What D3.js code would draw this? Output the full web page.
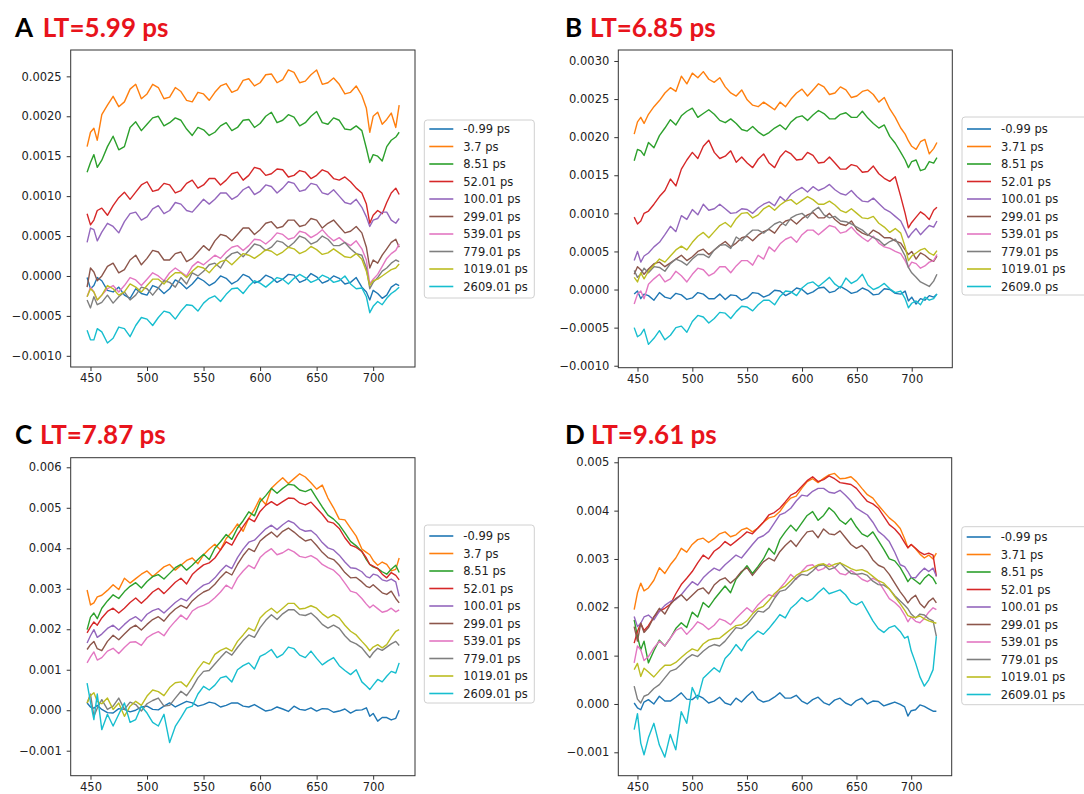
<!DOCTYPE html>
<html>
<head>
<meta charset="utf-8">
<script src="https://cdn.jsdelivr.net/npm/d3@7"></script>
<style>
  body { margin: 0; background: #fff; }
  svg { display: block; }
</style>
</head>
<body>
<div id="chart"></div>
<script>
// wavelength grid (nm), shared by every series
const wavelengths = [447, 450, 453, 456, 460, 465, 470, 475, 480, 485, 490, 495, 500, 505, 510, 515,
  520, 525, 530, 535, 540, 545, 550, 555, 560, 565, 570, 575, 580, 585, 590, 595, 600, 605, 610, 615,
  620, 625, 630, 635, 640, 645, 650, 655, 660, 665, 670, 675, 680, 685, 690, 694, 697, 700, 704, 708,
  712, 716, 720, 723];

const labelsA = ["-0.99 ps", "3.7 ps", "8.51 ps", "52.01 ps", "100.01 ps", "299.01 ps", "539.01 ps", "779.01 ps", "1019.01 ps", "2609.01 ps"];
const labelsB = ["-0.99 ps", "3.71 ps", "8.51 ps", "52.01 ps", "100.01 ps", "299.01 ps", "539.01 ps", "779.01 ps", "1019.01 ps", "2609.0 ps"];
const labelsC = ["-0.99 ps", "3.7 ps", "8.51 ps", "52.01 ps", "100.01 ps", "299.01 ps", "539.01 ps", "779.01 ps", "1019.01 ps", "2609.01 ps"];
const labelsD = ["-0.99 ps", "3.71 ps", "8.51 ps", "52.01 ps", "100.01 ps", "299.01 ps", "539.01 ps", "779.01 ps", "1019.01 ps", "2609.01 ps"];

// series values in units of 1e-3 (dA), one row per delay
const seriesA = [
  [-0.02,-0.16,-0.12,-0.02,-0.06,-0.18,-0.20,-0.14,-0.24,-0.28,-0.16,-0.22,-0.24,-0.12,-0.15,-0.22,-0.16,-0.05,-0.09,-0.16,-0.10,-0.02,-0.06,-0.12,-0.08,0.00,-0.03,-0.10,-0.06,0.02,-0.01,-0.09,-0.06,0.01,-0.02,-0.08,-0.04,0.02,0.01,-0.08,-0.05,0.03,-0.01,-0.09,-0.06,0.00,-0.03,-0.10,-0.08,-0.02,-0.14,-0.20,-0.30,-0.18,-0.22,-0.28,-0.24,-0.14,-0.10,-0.12],
  [1.62,1.80,1.85,1.70,2.02,2.14,2.25,2.12,2.18,2.34,2.40,2.22,2.28,2.40,2.36,2.22,2.24,2.36,2.31,2.20,2.18,2.30,2.28,2.20,2.30,2.38,2.41,2.30,2.33,2.45,2.47,2.38,2.42,2.52,2.53,2.42,2.46,2.58,2.55,2.42,2.44,2.52,2.58,2.40,2.42,2.48,2.40,2.28,2.30,2.38,2.26,2.10,1.80,2.00,2.05,1.90,1.96,2.04,1.86,2.14],
  [1.30,1.42,1.52,1.36,1.45,1.62,1.75,1.58,1.62,1.86,1.93,1.82,1.90,1.98,2.00,1.88,1.92,1.98,1.95,1.84,1.76,1.86,1.83,1.76,1.80,1.88,1.92,1.82,1.86,1.95,1.96,1.86,1.91,2.00,2.05,1.92,1.95,2.02,1.99,1.88,1.92,2.00,2.06,1.92,1.90,1.98,1.95,1.84,1.83,1.88,1.82,1.60,1.42,1.52,1.50,1.44,1.62,1.70,1.74,1.80],
  [0.78,0.64,0.70,0.82,0.85,0.76,0.88,0.98,1.05,0.96,1.05,1.14,1.18,1.06,1.08,1.16,1.14,1.04,1.07,1.16,1.20,1.10,1.14,1.22,1.22,1.14,1.20,1.28,1.30,1.20,1.26,1.36,1.34,1.26,1.28,1.34,1.33,1.24,1.26,1.32,1.30,1.22,1.26,1.33,1.30,1.22,1.20,1.24,1.18,1.10,1.04,0.90,0.66,0.76,0.82,0.78,0.92,1.04,1.10,1.02],
  [0.42,0.60,0.58,0.44,0.55,0.66,0.62,0.54,0.68,0.78,0.80,0.70,0.74,0.84,0.88,0.78,0.82,0.92,0.90,0.82,0.80,0.88,0.96,0.90,0.96,1.04,1.04,0.96,1.00,1.08,1.12,1.02,1.06,1.14,1.12,1.04,1.10,1.18,1.16,1.06,1.08,1.16,1.14,1.04,1.02,1.08,1.00,0.92,0.90,0.96,0.86,0.74,0.62,0.70,0.72,0.80,0.80,0.70,0.66,0.72],
  [-0.14,0.10,0.05,-0.06,0.00,0.12,0.16,0.04,0.08,0.20,0.26,0.14,0.22,0.32,0.30,0.20,0.20,0.28,0.30,0.18,0.22,0.30,0.38,0.32,0.44,0.52,0.50,0.44,0.52,0.60,0.60,0.52,0.58,0.66,0.68,0.60,0.62,0.70,0.70,0.62,0.64,0.72,0.70,0.60,0.66,0.70,0.62,0.54,0.56,0.62,0.54,0.36,0.10,0.20,0.16,0.26,0.34,0.42,0.46,0.36],
  [-0.26,-0.14,-0.20,-0.30,-0.24,-0.16,-0.12,-0.20,-0.12,-0.02,-0.05,-0.12,-0.04,0.04,0.00,-0.06,0.04,0.10,0.05,0.00,0.12,0.18,0.14,0.20,0.26,0.22,0.30,0.36,0.38,0.32,0.38,0.46,0.45,0.40,0.46,0.54,0.52,0.46,0.48,0.56,0.54,0.48,0.52,0.58,0.50,0.44,0.48,0.42,0.38,0.44,0.34,0.20,-0.10,-0.04,0.02,0.12,0.22,0.28,0.32,0.40],
  [-0.30,-0.40,-0.26,-0.36,-0.33,-0.24,-0.34,-0.26,-0.20,-0.30,-0.24,-0.14,-0.16,-0.24,-0.15,-0.06,-0.08,-0.14,-0.02,-0.10,0.04,0.00,0.06,0.14,0.16,0.10,0.22,0.28,0.30,0.24,0.32,0.40,0.38,0.32,0.36,0.44,0.42,0.36,0.42,0.50,0.47,0.40,0.43,0.50,0.46,0.38,0.38,0.42,0.34,0.28,0.26,0.10,-0.16,-0.08,-0.02,0.06,0.10,0.16,0.20,0.18],
  [-0.26,-0.16,-0.20,-0.30,-0.24,-0.12,-0.16,-0.24,-0.20,-0.10,-0.14,-0.20,-0.12,-0.04,-0.04,-0.10,-0.02,0.04,0.04,-0.02,0.06,0.12,0.10,0.04,0.12,0.18,0.20,0.14,0.21,0.28,0.26,0.22,0.27,0.33,0.31,0.26,0.30,0.36,0.34,0.28,0.31,0.37,0.33,0.27,0.29,0.34,0.29,0.24,0.23,0.28,0.21,0.06,-0.12,-0.06,-0.04,0.00,0.04,0.08,0.10,0.15],
  [-0.68,-0.80,-0.80,-0.66,-0.70,-0.84,-0.78,-0.64,-0.66,-0.76,-0.62,-0.52,-0.54,-0.62,-0.52,-0.44,-0.46,-0.54,-0.44,-0.36,-0.37,-0.44,-0.34,-0.28,-0.25,-0.32,-0.23,-0.16,-0.15,-0.22,-0.13,-0.06,-0.09,-0.14,-0.08,-0.02,-0.04,-0.10,-0.03,0.02,-0.02,-0.08,-0.05,0.01,-0.02,-0.08,-0.06,0.00,-0.10,-0.16,-0.15,-0.26,-0.46,-0.38,-0.32,-0.36,-0.28,-0.22,-0.18,-0.14]
];

const seriesB = [
  [-0.06,-0.02,-0.12,-0.06,-0.08,-0.14,-0.04,-0.10,-0.12,-0.05,-0.07,-0.13,-0.11,-0.04,-0.06,-0.12,-0.12,-0.06,-0.13,-0.07,-0.08,-0.14,-0.11,-0.04,-0.05,-0.10,-0.07,-0.01,-0.02,-0.08,-0.04,0.02,0.00,-0.06,-0.03,0.02,0.03,-0.04,-0.02,0.04,0.00,-0.05,-0.03,0.02,-0.01,-0.07,-0.06,0.01,0.00,-0.05,-0.06,-0.02,-0.15,-0.10,-0.19,-0.12,-0.14,-0.08,-0.10,-0.06],
  [2.04,2.20,2.26,2.18,2.30,2.40,2.48,2.58,2.65,2.60,2.80,2.70,2.84,2.78,2.86,2.76,2.72,2.78,2.66,2.58,2.54,2.62,2.49,2.42,2.40,2.46,2.41,2.36,2.46,2.40,2.50,2.58,2.63,2.54,2.62,2.70,2.66,2.56,2.58,2.66,2.62,2.52,2.54,2.60,2.62,2.56,2.46,2.52,2.37,2.26,2.12,2.04,1.95,1.88,1.84,1.94,1.97,1.78,1.85,1.93],
  [1.69,1.84,1.82,1.76,1.93,1.86,2.02,2.12,2.23,2.16,2.28,2.34,2.38,2.26,2.31,2.36,2.30,2.22,2.19,2.24,2.18,2.10,2.08,2.14,2.07,2.02,2.06,2.12,2.16,2.10,2.20,2.26,2.28,2.22,2.29,2.35,2.31,2.24,2.24,2.30,2.32,2.26,2.26,2.34,2.25,2.18,2.12,2.16,2.01,1.92,1.80,1.70,1.60,1.68,1.70,1.56,1.58,1.68,1.66,1.73],
  [0.95,0.86,0.90,1.00,1.03,1.12,1.22,1.30,1.45,1.36,1.58,1.70,1.80,1.72,1.88,1.96,1.80,1.72,1.75,1.82,1.67,1.74,1.66,1.60,1.71,1.78,1.66,1.60,1.74,1.82,1.78,1.70,1.71,1.80,1.76,1.66,1.67,1.74,1.66,1.58,1.58,1.64,1.62,1.54,1.55,1.62,1.52,1.46,1.42,1.48,1.22,1.00,0.81,0.88,0.95,1.02,0.98,0.92,1.04,1.08],
  [0.38,0.50,0.36,0.44,0.48,0.56,0.62,0.72,0.83,0.76,0.97,0.92,1.05,0.98,1.12,1.04,1.06,1.12,1.06,1.00,1.01,1.06,1.05,1.00,1.07,1.12,1.15,1.10,1.22,1.16,1.25,1.30,1.34,1.28,1.35,1.30,1.33,1.38,1.31,1.26,1.24,1.30,1.22,1.16,1.15,1.20,1.13,1.06,1.02,0.96,0.90,0.78,0.68,0.74,0.80,0.72,0.78,0.84,0.82,0.90],
  [0.20,0.30,0.26,0.20,0.27,0.34,0.36,0.30,0.35,0.40,0.45,0.38,0.43,0.50,0.53,0.46,0.52,0.58,0.63,0.56,0.61,0.68,0.70,0.64,0.71,0.76,0.79,0.74,0.84,0.90,0.92,0.86,0.93,0.98,1.01,0.94,0.94,1.00,0.92,0.86,0.84,0.90,0.79,0.74,0.71,0.78,0.74,0.68,0.68,0.64,0.61,0.52,0.46,0.50,0.40,0.48,0.45,0.40,0.37,0.44],
  [-0.19,-0.06,-0.02,-0.12,0.07,0.14,0.20,0.10,0.14,0.24,0.18,0.10,0.20,0.28,0.26,0.18,0.22,0.30,0.30,0.22,0.31,0.38,0.38,0.32,0.45,0.40,0.56,0.50,0.60,0.66,0.69,0.62,0.72,0.78,0.78,0.72,0.78,0.84,0.82,0.74,0.76,0.82,0.74,0.68,0.63,0.70,0.61,0.56,0.54,0.50,0.47,0.38,0.29,0.36,0.34,0.28,0.31,0.36,0.38,0.46],
  [0.25,0.16,0.20,0.28,0.22,0.30,0.29,0.24,0.34,0.40,0.37,0.32,0.40,0.46,0.46,0.42,0.52,0.58,0.59,0.54,0.69,0.64,0.72,0.78,0.78,0.74,0.80,0.86,0.89,0.84,0.94,0.98,1.00,0.94,1.03,1.08,0.98,0.94,0.96,0.90,0.89,0.86,0.82,0.78,0.72,0.68,0.65,0.58,0.63,0.66,0.55,0.44,0.29,0.22,0.16,0.10,0.07,0.04,0.11,0.20],
  [0.16,0.10,0.22,0.14,0.24,0.32,0.40,0.36,0.44,0.52,0.57,0.52,0.62,0.70,0.75,0.68,0.76,0.84,0.88,0.82,0.93,1.00,1.01,0.94,0.98,1.06,1.10,1.04,1.11,1.16,1.18,1.12,1.17,1.22,1.18,1.12,1.12,1.16,1.11,1.04,1.01,1.06,1.00,0.94,0.93,0.96,0.87,0.82,0.75,0.80,0.74,0.56,0.38,0.44,0.48,0.52,0.54,0.48,0.45,0.51],
  [-0.50,-0.62,-0.59,-0.52,-0.72,-0.64,-0.54,-0.66,-0.60,-0.50,-0.48,-0.56,-0.42,-0.34,-0.36,-0.44,-0.38,-0.30,-0.31,-0.38,-0.29,-0.22,-0.23,-0.28,-0.20,-0.14,-0.14,-0.20,-0.09,-0.02,-0.03,-0.08,0.02,0.08,0.10,0.04,0.10,0.16,0.07,0.02,0.15,0.08,0.12,0.20,0.06,0.00,0.03,0.08,0.01,-0.04,-0.02,-0.12,-0.24,-0.18,-0.15,-0.20,-0.10,-0.14,-0.12,-0.06]
];

const seriesC = [
  [0.18,0.08,0.05,0.12,0.02,-0.06,-0.07,0.04,0.02,-0.04,0.00,0.08,0.10,0.02,0.01,0.10,0.18,0.08,0.15,0.22,0.18,0.10,0.14,0.20,0.17,0.08,0.12,0.18,0.18,0.10,0.08,0.14,0.06,-0.02,0.01,0.08,0.03,-0.03,0.10,0.02,0.00,0.06,-0.02,0.04,0.03,-0.05,-0.02,0.03,-0.07,0.00,0.01,0.06,-0.15,-0.08,-0.27,-0.18,-0.18,-0.24,-0.20,0.00],
  [2.97,2.60,2.65,2.80,2.84,2.96,3.10,2.98,3.26,3.14,3.25,3.36,3.44,3.30,3.42,3.54,3.60,3.46,3.58,3.70,3.76,3.62,3.84,3.98,4.10,3.96,4.24,4.40,4.60,4.42,4.74,4.96,5.24,5.08,5.48,5.62,5.74,5.60,5.72,5.84,5.76,5.62,5.46,5.56,5.24,5.00,4.72,4.70,4.50,4.30,3.98,3.90,3.84,3.70,3.58,3.66,3.60,3.44,3.48,3.76],
  [1.99,2.30,2.40,2.26,2.52,2.70,2.85,2.76,2.93,3.06,3.15,3.02,3.18,3.30,3.35,3.24,3.38,3.52,3.60,3.46,3.58,3.72,3.85,3.72,4.00,4.16,4.34,4.22,4.50,4.68,4.90,4.80,5.15,5.30,5.48,5.36,5.48,5.58,5.56,5.44,5.40,5.46,5.24,5.02,4.82,4.72,4.58,4.38,4.17,4.06,3.92,3.72,3.60,3.54,3.50,3.42,3.36,3.48,3.58,3.40],
  [1.91,2.06,2.18,2.10,2.28,2.44,2.52,2.40,2.52,2.66,2.77,2.64,2.77,2.92,3.01,2.88,3.02,3.16,3.26,3.12,3.35,3.48,3.59,3.64,3.76,3.96,4.16,4.08,4.33,4.54,4.74,4.66,4.91,5.06,5.15,5.06,5.15,5.24,5.23,5.12,5.07,5.14,4.99,4.84,4.66,4.62,4.49,4.26,4.08,4.02,3.92,3.76,3.60,3.56,3.50,3.36,3.27,3.40,3.33,3.22],
  [1.66,1.84,1.99,1.80,1.88,2.02,2.10,1.98,2.12,2.24,2.31,2.20,2.37,2.46,2.51,2.40,2.53,2.66,2.76,2.70,2.86,2.98,3.09,3.14,3.27,3.44,3.58,3.50,3.77,3.98,4.15,4.20,4.34,4.48,4.57,4.46,4.58,4.68,4.62,4.48,4.42,4.44,4.32,4.14,4.01,3.96,3.83,3.66,3.52,3.50,3.42,3.30,3.27,3.36,3.33,3.22,3.19,3.24,3.17,2.81],
  [1.50,1.62,1.70,1.52,1.47,1.70,1.85,1.74,1.88,2.02,2.10,1.98,2.12,2.24,2.31,2.20,2.37,2.50,2.59,2.52,2.70,2.82,2.92,2.98,3.11,3.28,3.42,3.34,3.60,3.82,3.99,3.92,4.18,4.30,4.40,4.28,4.42,4.50,4.40,4.28,4.18,4.22,4.07,3.90,3.77,3.72,3.58,3.40,3.27,3.28,3.17,3.06,3.03,3.10,3.00,2.90,2.86,2.94,2.76,2.65],
  [1.17,1.32,1.44,1.24,1.30,1.46,1.53,1.40,1.55,1.68,1.69,1.60,1.79,1.88,1.94,1.84,2.04,2.20,2.35,2.24,2.45,2.54,2.59,2.66,2.78,2.92,3.09,3.00,3.27,3.44,3.58,3.50,3.77,3.90,3.99,3.84,3.89,3.98,3.91,3.80,3.77,3.82,3.74,3.60,3.52,3.46,3.33,3.14,2.94,2.90,2.76,2.62,2.53,2.60,2.51,2.42,2.45,2.52,2.43,2.48],
  [0.18,0.40,-0.15,0.05,0.26,0.02,0.10,0.30,0.02,0.20,0.14,-0.02,0.16,0.24,0.30,0.10,0.12,0.30,0.47,0.36,0.56,0.80,0.96,0.98,1.14,1.30,1.45,1.36,1.55,1.72,1.86,1.80,2.04,2.22,2.36,2.24,2.38,2.48,2.48,2.36,2.34,2.40,2.28,2.12,2.03,2.10,2.02,1.84,1.70,1.64,1.54,1.40,1.30,1.42,1.53,1.48,1.56,1.64,1.70,1.60],
  [0.18,0.36,0.43,0.22,0.16,0.30,0.02,0.18,-0.15,0.10,0.22,0.12,0.35,0.50,0.46,0.36,0.56,0.68,0.70,0.58,0.80,1.02,1.20,1.14,1.38,1.48,1.54,1.46,1.70,1.86,2.03,1.96,2.28,2.42,2.52,2.40,2.52,2.64,2.64,2.50,2.52,2.58,2.52,2.38,2.28,2.36,2.28,2.10,1.95,1.86,1.70,1.58,1.47,1.56,1.62,1.54,1.62,1.80,1.95,1.99],
  [0.67,0.20,-0.23,0.40,-0.48,-0.10,-0.39,-0.10,0.18,-0.30,-0.23,0.10,-0.07,-0.30,-0.39,-0.10,-0.80,-0.40,-0.18,0.05,0.10,0.40,0.59,0.50,0.62,0.80,0.84,0.70,1.00,1.10,1.17,1.02,1.33,1.40,1.50,1.30,1.38,1.56,1.52,1.36,1.30,1.46,1.28,1.12,1.22,1.30,1.10,0.98,0.88,1.00,0.70,0.60,0.51,0.62,0.76,0.70,0.84,0.96,0.92,1.17]
];

const seriesD = [
  [0.02,-0.08,-0.12,0.04,0.09,0.00,0.16,0.06,0.06,0.14,0.23,0.10,0.09,0.18,0.12,0.02,0.06,0.14,0.02,-0.02,0.12,0.04,0.16,0.26,0.10,0.04,0.07,0.14,0.23,0.12,0.12,0.18,0.06,0.00,0.09,0.14,0.03,-0.02,0.08,0.12,0.02,-0.03,0.07,0.12,0.00,0.06,0.05,-0.04,0.00,0.04,-0.01,-0.06,-0.25,-0.14,-0.12,-0.02,-0.05,-0.10,-0.15,-0.15],
  [1.95,2.30,2.50,2.34,2.40,2.56,2.82,2.70,2.88,3.02,3.22,3.14,3.30,3.40,3.43,3.34,3.42,3.52,3.56,3.46,3.50,3.60,3.64,3.56,3.64,3.76,3.85,3.88,3.98,4.14,4.26,4.30,4.46,4.60,4.66,4.58,4.67,4.74,4.77,4.66,4.67,4.70,4.60,4.46,4.33,4.26,4.11,3.98,3.85,3.76,3.63,3.42,3.23,3.30,3.21,3.10,3.02,3.08,3.00,3.12],
  [1.74,1.40,1.12,1.30,0.85,1.10,1.32,1.20,1.36,1.56,1.68,1.58,1.90,1.80,2.10,2.00,2.16,2.30,2.44,2.30,2.58,2.72,2.86,2.70,2.84,3.00,3.22,3.10,3.40,3.56,3.70,3.58,3.74,3.90,3.98,3.80,3.90,4.06,3.96,3.80,3.72,3.84,3.66,3.52,3.46,3.56,3.38,3.20,3.00,2.96,2.82,2.66,2.53,2.62,2.55,2.48,2.60,2.68,2.60,2.48],
  [1.26,1.50,1.67,1.52,1.62,1.80,1.92,1.98,2.06,2.28,2.47,2.60,2.74,2.92,3.08,3.00,3.16,3.24,3.36,3.28,3.37,3.46,3.56,3.52,3.64,3.76,3.91,3.96,4.05,4.18,4.32,4.38,4.50,4.62,4.70,4.60,4.64,4.72,4.66,4.58,4.56,4.54,4.46,4.32,4.19,4.14,4.05,3.88,3.71,3.62,3.49,3.34,3.23,3.30,3.22,3.14,3.09,3.12,3.08,2.64],
  [1.81,1.60,1.67,1.80,1.84,1.74,1.92,2.04,2.12,2.16,2.26,2.40,2.53,2.46,2.61,2.72,2.81,2.76,2.88,2.98,3.08,3.02,3.16,3.30,3.43,3.48,3.57,3.74,3.91,3.96,4.05,4.20,4.32,4.30,4.40,4.46,4.46,4.38,4.36,4.42,4.32,4.20,4.05,3.98,3.91,3.76,3.57,3.48,3.36,3.14,2.88,2.84,2.74,2.62,2.61,2.72,2.81,2.74,2.81,2.64],
  [1.60,1.30,1.67,1.48,1.58,1.80,1.98,1.86,2.06,2.18,2.26,2.14,2.25,2.36,2.40,2.28,2.46,2.56,2.61,2.50,2.60,2.74,2.82,2.66,2.80,2.94,3.02,2.96,3.15,3.28,3.38,3.26,3.42,3.56,3.58,3.44,3.62,3.52,3.50,3.58,3.44,3.30,3.22,3.28,3.16,2.98,2.87,2.82,2.68,2.50,2.32,2.20,2.09,2.18,2.25,2.08,1.99,2.12,2.19,2.09],
  [0.85,1.20,1.12,0.90,0.98,1.16,1.30,1.20,1.36,1.52,1.58,1.44,1.56,1.70,1.64,1.54,1.63,1.76,1.72,1.64,1.77,1.88,1.99,1.90,2.05,2.16,2.26,2.22,2.39,2.52,2.68,2.58,2.74,2.86,2.88,2.76,2.80,2.90,2.82,2.70,2.67,2.76,2.68,2.58,2.53,2.60,2.54,2.36,2.18,2.10,1.99,1.84,1.70,1.80,1.71,1.68,1.77,1.90,1.99,1.95],
  [0.37,0.10,0.02,0.16,0.20,0.32,0.40,0.54,0.68,0.72,0.82,0.94,1.02,0.98,1.09,1.18,1.23,1.20,1.30,1.44,1.58,1.56,1.64,1.78,1.92,1.90,1.99,2.18,2.33,2.36,2.47,2.60,2.68,2.66,2.75,2.86,2.88,2.78,2.82,2.92,2.80,2.70,2.68,2.70,2.66,2.54,2.47,2.46,2.38,2.24,2.13,2.04,1.97,1.86,1.78,1.86,1.84,1.76,1.72,1.40],
  [0.71,0.84,0.57,0.74,0.66,0.56,0.69,0.80,0.80,0.86,0.96,1.06,1.14,1.10,1.24,1.32,1.35,1.36,1.45,1.54,1.62,1.64,1.72,1.86,1.97,2.02,2.14,2.28,2.38,2.44,2.55,2.66,2.73,2.76,2.82,2.88,2.90,2.84,2.89,2.92,2.86,2.80,2.76,2.78,2.73,2.64,2.55,2.50,2.38,2.22,2.07,1.94,1.83,1.80,1.79,1.82,1.76,1.72,1.69,1.67],
  [-0.53,-0.20,-0.81,-1.05,-0.70,-0.40,-0.85,-1.10,-0.63,-0.95,-0.16,-0.40,0.34,0.10,0.53,0.64,0.75,0.66,0.94,1.06,1.23,1.10,1.29,1.40,1.51,1.44,1.56,1.70,1.85,1.78,1.98,2.08,2.20,2.12,2.18,2.30,2.40,2.28,2.32,2.36,2.26,2.10,2.05,2.12,1.92,1.72,1.56,1.48,1.58,1.62,1.50,1.36,1.40,1.10,0.85,0.56,0.37,0.50,0.71,1.40]
];

// tick labels
const xTicks = [450, 500, 550, 600, 650, 700];
const yTicksA = [-0.001, -0.0005, 0, 0.0005, 0.001, 0.0015, 0.002, 0.0025];
const yTicksB = [-0.001, -0.0005, 0, 0.0005, 0.001, 0.0015, 0.002, 0.0025, 0.003];
const yTicksC = [-0.001, 0, 0.001, 0.002, 0.003, 0.004, 0.005, 0.006];
const yTicksD = [-0.001, 0, 0.001, 0.002, 0.003, 0.004, 0.005];

const colors = ["#1f77b4", "#ff7f0e", "#2ca02c", "#d62728", "#9467bd",
                "#8c564b", "#e377c2", "#7f7f7f", "#bcbd22", "#17becf"];

const width = 1084, height = 794;
const svg = d3.select("#chart").append("svg")
    .attr("width", width)
    .attr("height", height);

const panels = [
  { letter: "A", lt: "LT=5.99 ps", series: seriesA, labels: labelsA, ticks: yTicksA, fmt: ".4f",
    box: [70.7, 50, 415, 367], yDom: [-0.00114, 0.00283], titleY: 36.7, letterX: 15, ltX: 42.7,
    legend: { x: 424.3, y: 120, w: 110, first: 129 } },
  { letter: "B", lt: "LT=6.85 ps", series: seriesB, labels: labelsB, ticks: yTicksB, fmt: ".4f",
    box: [618.3, 50, 952.3, 367.7], yDom: [-0.001026, 0.003144], titleY: 36.7, letterX: 565, ltX: 590,
    legend: { x: 962, y: 117, w: 130, first: 129 } },
  { letter: "C", lt: "LT=7.87 ps", series: seriesC, labels: labelsC, ticks: yTicksC, fmt: ".3f",
    box: [70.7, 457.7, 415, 775.7], yDom: [-0.001617, 0.006237], titleY: 443.5, letterX: 15, ltX: 40,
    legend: { x: 424.3, y: 525, w: 110, first: 536 } },
  { letter: "D", lt: "LT=9.61 ps", series: seriesD, labels: labelsD, ticks: yTicksD, fmt: ".3f",
    box: [618.3, 457.7, 951.7, 775.7], yDom: [-0.001484, 0.005095], titleY: 443.5, letterX: 565, ltX: 591,
    legend: { x: 961.7, y: 526.7, w: 130, first: 537 } }
];

panels.forEach(drawPanel);

function drawPanel(p) {
    const [x0, y0, x1, y1] = p.box;

    const x = d3.scaleLinear().domain([432.5, 737]).range([x0, x1]);
    const y = d3.scaleLinear().domain(p.yDom).range([y1, y0]);

    const g = svg.append("g");

    // title: black letter + red lifetime
    g.append("text")
        .attr("x", p.letterX).attr("y", p.titleY)
        .style("font-family", "Lato, 'Open Sans', sans-serif")
        .style("font-weight", "bold")
        .style("font-size", "26px")
        .style("fill", "#000")
        .text(p.letter);
    g.append("text")
        .attr("x", p.ltX).attr("y", p.titleY)
        .style("font-family", "Lato, 'Open Sans', sans-serif")
        .style("font-weight", "bold")
        .style("font-size", "26px")
        .style("fill", "#e8141c")
        .text(p.lt);

    // spectra
    const line = d3.line()
        .x((d, i) => x(wavelengths[i]))
        .y(d => y(d * 1e-3));

    g.selectAll(".spec")
        .data(p.series)
        .enter().append("path")
        .attr("class", "spec")
        .attr("d", line)
        .attr("fill", "none")
        .attr("stroke", (d, i) => colors[i])
        .attr("stroke-width", 1.4)
        .attr("stroke-linejoin", "round");

    // axes
    const yAxis = g.append("g")
        .attr("transform", `translate(${x0},0)`)
        .call(d3.axisLeft(y).tickValues(p.ticks).tickSize(4).tickPadding(5)
            .tickFormat(d3.format(p.fmt)));
    const xAxis = g.append("g")
        .attr("transform", `translate(0,${y1})`)
        .call(d3.axisBottom(x).tickValues(xTicks).tickSize(4).tickPadding(3)
            .tickFormat(d3.format("d")));

    [yAxis, xAxis].forEach(a => {
        a.select(".domain").remove();
        a.selectAll("line").attr("stroke", "#333");
        a.selectAll("text")
            .style("font-family", "'DejaVu Sans', sans-serif")
            .style("font-size", "11.5px")
            .style("fill", "#222");
    });

    // frame
    g.append("rect")
        .attr("x", x0).attr("y", y0)
        .attr("width", x1 - x0).attr("height", y1 - y0)
        .attr("fill", "none")
        .attr("stroke", "#333")
        .attr("stroke-width", 1);

    // legend
    const L = p.legend;
    const step = 17.5;
    g.append("rect")
        .attr("x", L.x).attr("y", L.y)
        .attr("width", L.w).attr("height", step * 10 + 3)
        .attr("rx", 3)
        .attr("fill", "#fff")
        .attr("stroke", "#d0d0d0");

    const items = g.selectAll(".leg")
        .data(p.labels)
        .enter().append("g")
        .attr("class", "leg")
        .attr("transform", (d, i) => `translate(${L.x},${L.first + i * step})`);

    items.append("line")
        .attr("x1", 5).attr("x2", 29)
        .attr("stroke", (d, i) => colors[i])
        .attr("stroke-width", 1.6);

    items.append("text")
        .attr("x", 39)
        .attr("dy", "0.35em")
        .style("font-family", "'DejaVu Sans', sans-serif")
        .style("font-size", "11.5px")
        .style("fill", "#222")
        .text(d => d);
}
</script>
</body>
</html>
